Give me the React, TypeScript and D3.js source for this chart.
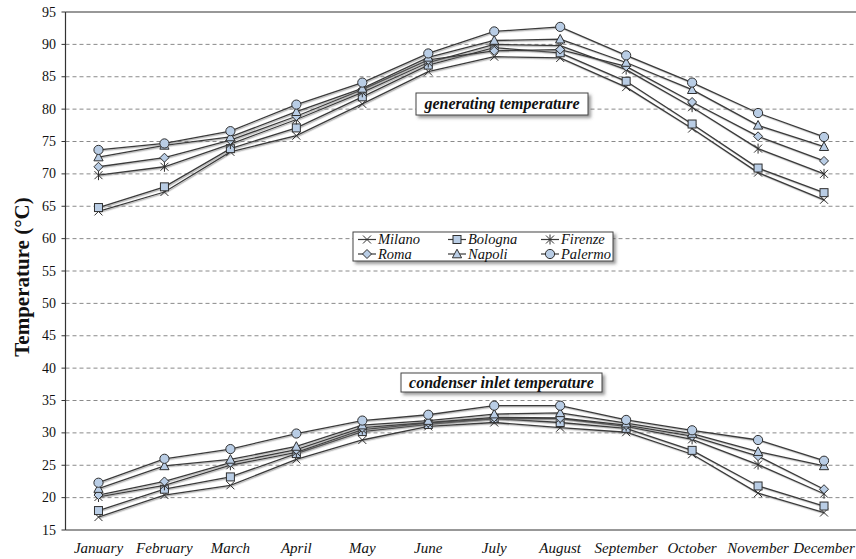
import React from "react";
import * as d3 from "d3";

const months = ["January", "February", "March", "April", "May", "June", "July", "August", "September", "October", "November", "December"];
const cities = ["Milano", "Bologna", "Firenze", "Roma", "Napoli", "Palermo"];
const yTicks = [15, 20, 25, 30, 35, 40, 45, 50, 55, 60, 65, 70, 75, 80, 85, 90, 95];

// generating temperature (°C)
const genMilano = [64.2, 67.2, 73.4, 75.9, 80.8, 85.8, 88.1, 87.9, 83.4, 77.0, 70.2, 66.0];
const genBologna = [64.8, 68.0, 73.9, 77.1, 81.9, 86.8, 89.5, 88.7, 84.3, 77.7, 70.9, 67.1];
const genFirenze = [69.8, 71.1, 74.6, 78.4, 82.6, 87.2, 90.0, 89.8, 86.1, 80.3, 73.9, 70.0];
const genRoma = [71.1, 72.5, 75.2, 78.9, 83.0, 87.6, 89.0, 89.2, 86.6, 81.1, 75.8, 72.0];
const genNapoli = [72.6, 74.4, 75.7, 79.6, 83.2, 88.0, 90.6, 90.8, 87.2, 83.0, 77.5, 74.2];
const genPalermo = [73.7, 74.7, 76.6, 80.7, 84.1, 88.6, 92.0, 92.7, 88.3, 84.1, 79.4, 75.7];

// condenser inlet temperature (°C)
const condMilano = [17.0, 20.4, 21.9, 25.9, 28.9, 31.0, 31.6, 30.8, 30.1, 26.7, 20.7, 17.7];
const condBologna = [18.0, 21.3, 23.2, 26.8, 30.2, 31.3, 32.2, 31.6, 30.7, 27.3, 21.8, 18.7];
const condFirenze = [20.1, 21.9, 25.0, 27.0, 30.5, 31.5, 32.2, 32.2, 31.0, 29.0, 25.1, 20.6];
const condRoma = [20.4, 22.5, 25.4, 27.4, 30.8, 31.6, 32.4, 32.3, 31.2, 29.5, 26.4, 21.3];
const condNapoli = [21.4, 24.9, 25.9, 27.9, 31.2, 31.9, 32.9, 33.1, 31.5, 29.9, 27.1, 24.9];
const condPalermo = [22.3, 26.0, 27.5, 29.9, 31.9, 32.8, 34.2, 34.2, 32.0, 30.4, 28.9, 25.7];

const genSeries = [genMilano, genBologna, genFirenze, genRoma, genNapoli, genPalermo];
const condSeries = [condMilano, condBologna, condFirenze, condRoma, condNapoli, condPalermo];

const W = 856;
const H = 559;
const left = 65.5;
const right = 857;
const top = 12;
const bottom = 530;

const FILL = "#b9cde5";
const STROKE = "#2f2f2f";
const LINE = "#3a3a3a";
const SERIF = "'Liberation Serif', 'Times New Roman', serif";

const x = d3.scaleBand<string>().domain(months).range([left, right]);
const y = d3.scaleLinear().domain([15, 95]).range([bottom, top]);
const cx = (m: string) => (x(m) as number) + x.bandwidth() / 2;

function Marker({ kind, px, py }: { kind: string; px: number; py: number }) {
  const t = `translate(${px},${py})`;
  const common = { stroke: STROKE, strokeWidth: 1 };
  switch (kind) {
    case "Milano":
      return <path transform={t} d="M-4,-4L4,4M-4,4L4,-4" fill="none" {...common} />;
    case "Bologna":
      return <rect transform={t} x={-4} y={-4} width={8} height={8} fill={FILL} {...common} />;
    case "Firenze":
      return <path transform={t} d="M-4,-4L4,4M-4,4L4,-4M0,-5L0,5" fill="none" {...common} />;
    case "Roma":
      return <path transform={t} d="M0,-4.5L4.5,0L0,4.5L-4.5,0Z" fill={FILL} {...common} />;
    case "Napoli":
      return <path transform={t} d="M0,-4.8L4.6,3.8L-4.6,3.8Z" fill={FILL} {...common} />;
    default:
      return <circle transform={t} r={4.6} fill={FILL} {...common} />;
  }
}

function SeriesGroup({ data, name }: { data: number[]; name: string }) {
  const line = d3
    .line<number>()
    .x((_, i) => cx(months[i]))
    .y((v) => y(v));
  return (
    <g>
      <path d={line(data) || ""} fill="none" stroke={LINE} strokeWidth={1.3} filter="url(#lineShadow)" />
      {data.map((v, i) => (
        <Marker key={i} kind={name} px={cx(months[i])} py={y(v)} />
      ))}
    </g>
  );
}

function Callout({ x0, y0, w, h, text }: { x0: number; y0: number; w: number; h: number; text: string }) {
  return (
    <g>
      <rect x={x0} y={y0} width={w} height={h} fill="#fff" stroke="#444" strokeWidth={1} filter="url(#boxShadow)" />
      <text
        x={x0 + w / 2}
        y={y0 + h / 2 + 5}
        textAnchor="middle"
        fontFamily={SERIF}
        fontStyle="italic"
        fontWeight="bold"
        fontSize={16}
        fill="#111"
      >
        {text}
      </text>
    </g>
  );
}

export default function App() {
  const gridVals = yTicks.filter((v) => v > 15 && v < 95);
  const legendCols = [358, 448, 541];
  const legendRows = [239.5, 254];
  return (
    <svg width={W} height={H} style={{ position: "absolute", left: 0, top: 0, background: "#fff" }}>
      <defs>
        <filter id="lineShadow" x="-5%" y="-20%" width="110%" height="140%">
          <feDropShadow dx={1} dy={1.2} stdDeviation={0.7} floodColor="#777" floodOpacity={0.55} />
        </filter>
        <filter id="boxShadow" x="-10%" y="-30%" width="120%" height="170%">
          <feDropShadow dx={2.5} dy={2.5} stdDeviation={1.5} floodColor="#555" floodOpacity={0.6} />
        </filter>
        <clipPath id="plotClip">
          <rect x={left} y={0} width={W - left} height={H} />
        </clipPath>
      </defs>

      {/* horizontal dashed grid */}
      {gridVals.map((v) => (
        <line key={v} x1={left} x2={W} y1={y(v)} y2={y(v)} stroke="#8a8a8a" strokeWidth={1} strokeDasharray="4,3" />
      ))}

      {/* plot frame */}
      <line x1={left} x2={W} y1={top} y2={top} stroke="#333" strokeWidth={1.2} />
      <line x1={left} x2={W} y1={bottom} y2={bottom} stroke="#333" strokeWidth={1.2} />
      <line x1={left} x2={left} y1={top} y2={bottom} stroke="#333" strokeWidth={1.2} />

      {/* y ticks and labels */}
      {yTicks.map((v) => (
        <g key={v}>
          <line x1={left - 4} x2={left} y1={y(v)} y2={y(v)} stroke="#333" strokeWidth={1} />
          <text x={56} y={y(v) + 4.5} textAnchor="end" fontFamily={SERIF} fontSize={14} fill="#111">
            {v}
          </text>
        </g>
      ))}

      {/* month labels */}
      {months.map((m) => (
        <text key={m} x={cx(m)} y={553} textAnchor="middle" fontFamily={SERIF} fontStyle="italic" fontSize={15} fill="#111">
          {m}
        </text>
      ))}

      <text
        transform="translate(29,277) rotate(-90)"
        textAnchor="middle"
        fontFamily={SERIF}
        fontWeight="bold"
        fontSize={21}
        fill="#111"
      >
        Temperature (°C)
      </text>

      <g clipPath="url(#plotClip)">
        {genSeries.map((s, i) => (
          <SeriesGroup key={"g" + i} data={s} name={cities[i]} />
        ))}
        {condSeries.map((s, i) => (
          <SeriesGroup key={"c" + i} data={s} name={cities[i]} />
        ))}
      </g>

      <Callout x0={416} y0={93} w={172} h={22} text="generating temperature" />
      <Callout x0={401} y0={373} w={201} h={19} text="condenser inlet temperature" />

      {/* legend */}
      <rect x={353} y={232} width={260} height={29} fill="#fff" stroke="#444" strokeWidth={1} filter="url(#boxShadow)" />
      {cities.map((c, i) => {
        const col = i % 3;
        const row = Math.floor(i / 3);
        const lx = legendCols[col];
        const ly = legendRows[row];
        return (
          <g key={c}>
            <line x1={lx} x2={lx + 18} y1={ly} y2={ly} stroke={LINE} strokeWidth={1.2} />
            <Marker kind={c} px={lx + 9} py={ly} />
            <text x={lx + 20} y={ly + 4.5} fontFamily={SERIF} fontStyle="italic" fontSize={14.5} fill="#111">
              {c}
            </text>
          </g>
        );
      })}
    </svg>
  );
}
